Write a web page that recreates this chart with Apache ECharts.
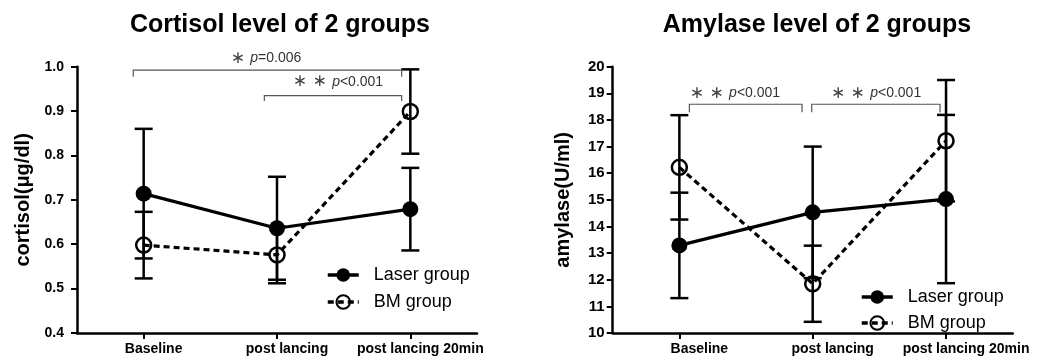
<!DOCTYPE html>
<html>
<head>
<meta charset="utf-8">
<script src="https://cdn.jsdelivr.net/npm/echarts@6/dist/echarts.min.js"></script>
<style>
html,body{margin:0;padding:0;background:#fff;}
#chart{width:1042px;height:356px;}
</style>
</head>
<body>
<div id="chart"></div>
<script>
// ---- data ----
const categories = ['Baseline', 'post lancing', 'post lancing 20min'];
const seriesNames = ['Laser group', 'BM group'];

const cortisolLaser = [0.714, 0.636, 0.679];
const cortisolLaserErr = [0.146, 0.116, 0.093];
const cortisolBM = [0.598, 0.576, 0.899];
const cortisolBMErr = [0.075, 0.064, 0.095];

const amylaseLaser = [13.29, 14.53, 15.03];
const amylaseLaserErr = [1.98, 2.47, 3.16];
const amylaseBM = [16.22, 11.85, 17.22];
const amylaseBMErr = [1.96, 1.43, 2.28];

const cortisolTicks = [0.4, 1.0, 0.1];
const amylaseTicks = [10, 20, 1];

// significance brackets: [xStart, xEnd, yLine, yEnd] in axis units (x in category index units)
const cortisolBrackets = [[-0.078, 1.935, 0.9925, 0.9775], [0.905, 1.935, 0.935, 0.923]];
const cortisolSigText = [[0.9175, 1.019, 1, '=0.006'], [1.4575, 0.966, 2, '<0.001']];
const amylaseBrackets = [[0.075, 0.92, 18.59, 18.29], [0.9925, 1.955, 18.59, 18.29]];
const amylaseSigText = [[0.417, 19.0, 2, '<0.001'], [1.475, 19.0, 2, '<0.001']];

// ---- chart ----
const chart = echarts.init(document.getElementById('chart'), null, {renderer: 'canvas'});
const FONT = 'Liberation Sans, Arial, Helvetica, sans-serif';

function lineSeries(name, data, gi, dashed) {
  return {
    type: 'line', name: name, data: data,
    xAxisIndex: gi * 2, yAxisIndex: gi,
    symbol: 'circle', symbolSize: dashed ? 15 : 16,
    z: 3,
    lineStyle: {color: '#000', width: 3.2, type: dashed ? [6, 4] : 'solid'},
    itemStyle: dashed ? {color: 'rgba(255,255,255,0)', borderColor: '#000', borderWidth: 2.5}
                      : {color: '#000', borderColor: '#000', borderWidth: 0},
    emphasis: {disabled: true},
    animation: false
  };
}

function errSeries(vals, errs, gi) {
  return {
    type: 'custom', name: 'err' + gi,
    xAxisIndex: gi * 2, yAxisIndex: gi, z: 2,
    data: vals.map((v, i) => [i, v - errs[i], v + errs[i]]),
    encode: {x: 0, y: [1, 2]},
    renderItem: function (params, api) {
      const x = api.value(0);
      const lo = api.coord([x, api.value(1)]);
      const hi = api.coord([x, api.value(2)]);
      const hw = 9;
      const st = {stroke: '#000', lineWidth: 2.5};
      return {type: 'group', children: [
        {type: 'line', shape: {x1: lo[0], y1: lo[1], x2: hi[0], y2: hi[1]}, style: st},
        {type: 'line', shape: {x1: lo[0] - hw, y1: lo[1], x2: lo[0] + hw, y2: lo[1]}, style: st},
        {type: 'line', shape: {x1: hi[0] - hw, y1: hi[1], x2: hi[0] + hw, y2: hi[1]}, style: st}
      ]};
    },
    animation: false, silent: true
  };
}

function bracketSeries(br, gi) {
  return {
    type: 'custom', name: 'br' + gi,
    xAxisIndex: gi * 2 + 1, yAxisIndex: gi, z: 4, clip: false,
    data: br,
    renderItem: function (params, api) {
      const a = api.coord([api.value(0), api.value(3)]);
      const b = api.coord([api.value(0), api.value(2)]);
      const c = api.coord([api.value(1), api.value(2)]);
      const d = api.coord([api.value(1), api.value(3)]);
      return {type: 'polyline', shape: {points: [a, b, c, d]},
        style: {stroke: '#555', lineWidth: 1.2, fill: null}};
    },
    animation: false, silent: true
  };
}

function sigTextSeries(txt, gi) {
  return {
    type: 'custom', name: 'tx' + gi,
    xAxisIndex: gi * 2 + 1, yAxisIndex: gi, z: 4, clip: false,
    data: txt.map(t => [t[0], t[1], t[2], t[3]]),
    dimensions: ['x', 'y', 'n', 's'],
    renderItem: function (params, api) {
      const p = api.coord([api.value(0), api.value(1)]);
      const n = api.value(2);
      const stars = n === 2 ? '∗ ∗ ' : '∗ ';
      const s = txt[params.dataIndex][3];
      return {type: 'text', x: p[0], y: p[1],
        style: {
          text: '{s|' + stars + '}{p|p}{t|' + s + '}',
          align: 'center', verticalAlign: 'middle',
          rich: {
            s: {fontFamily: 'DejaVu Sans', fontSize: 17, fill: '#444', color: '#444'},
            p: {fontFamily: FONT, fontSize: 14, fontStyle: 'italic', fill: '#333', color: '#333'},
            t: {fontFamily: FONT, fontSize: 14, fill: '#333', color: '#333'}
          }
        }};
    },
    animation: false, silent: true
  };
}

function yAxis(gi, ticks, name, gap, margin, fs) {
  return {
    type: 'value', gridIndex: gi, min: ticks[0], max: ticks[1], interval: ticks[2],
    name: name, nameLocation: 'middle', nameGap: gap,
    nameTextStyle: {fontFamily: FONT, fontSize: 20, fontWeight: 'bold', color: '#000'},
    axisLine: {show: true, onZero: false, lineStyle: {color: '#000', width: 2.5}},
    axisTick: {show: true, length: 6, lineStyle: {color: '#000', width: 2}},
    axisLabel: {fontFamily: FONT, fontSize: fs, fontWeight: 'bold', color: '#000', margin: margin,
      formatter: v => ticks[2] < 1 ? v.toFixed(1) : String(v)},
    splitLine: {show: false}
  };
}

function xAxisCat(gi, pad) {
  return {
    type: 'category', gridIndex: gi, data: categories, boundaryGap: true,
    axisLine: {show: true, onZero: false, lineStyle: {color: '#000', width: 2.5}},
    axisTick: {show: true, alignWithLabel: true, length: 6, lineStyle: {color: '#000', width: 2}},
    axisLabel: {fontFamily: FONT, fontSize: 14, fontWeight: 'bold', color: '#000', margin: 9,
      interval: 0, hideOverlap: false, padding: [0, 0, 0, pad]},
    splitLine: {show: false}
  };
}

function xAxisHidden(gi) {
  return {type: 'value', gridIndex: gi, min: -0.5, max: 2.5, show: false,
    axisLine: {onZero: false}};
}

function legend(left, top, gap) {
  return {
    orient: 'vertical', left: left, top: top, padding: 0,
    itemWidth: 31, itemHeight: 17, itemGap: gap,
    data: seriesNames,
    lineStyle: {width: 3.5},
    textStyle: {fontFamily: FONT, fontSize: 18, color: '#000', padding: [0, 0, 0, 10]},
    selectedMode: false
  };
}

const option = {
  backgroundColor: '#fff',
  animation: false,
  title: [
    {text: 'Cortisol level of 2 groups', left: 275, top: 8, textAlign: 'center',
      textStyle: {fontFamily: FONT, fontSize: 25, fontWeight: 'bold', color: '#000'}},
    {text: 'Amylase level of 2 groups', left: 812, top: 8, textAlign: 'center',
      textStyle: {fontFamily: FONT, fontSize: 25, fontWeight: 'bold', color: '#000'}}
  ],
  grid: [
    {left: 77, top: 66.7, width: 400, height: 266.7, containLabel: false},
    {left: 612.7, top: 66.7, width: 400, height: 266.7, containLabel: false}
  ],
  xAxis: [xAxisCat(0, 20), xAxisHidden(0), xAxisCat(1, 40), xAxisHidden(1)],
  yAxis: [
    yAxis(0, cortisolTicks, 'cortisol(μg/dl)', 44, 13, 14),
    yAxis(1, amylaseTicks, 'amylase(U/ml)', 39, 8, 15)
  ],
  legend: [legend(326, 266, 9), legend(860, 288, 8)],
  series: [
    errSeries(cortisolLaser, cortisolLaserErr, 0),
    errSeries(cortisolBM, cortisolBMErr, 0),
    lineSeries(seriesNames[0], cortisolLaser, 0, false),
    lineSeries(seriesNames[1], cortisolBM, 0, true),
    bracketSeries(cortisolBrackets, 0),
    sigTextSeries(cortisolSigText, 0),
    errSeries(amylaseLaser, amylaseLaserErr, 1),
    errSeries(amylaseBM, amylaseBMErr, 1),
    lineSeries(seriesNames[0], amylaseLaser, 1, false),
    lineSeries(seriesNames[1], amylaseBM, 1, true),
    bracketSeries(amylaseBrackets, 1),
    sigTextSeries(amylaseSigText, 1)
  ]
};
chart.setOption(option);
</script>
</body>
</html>
